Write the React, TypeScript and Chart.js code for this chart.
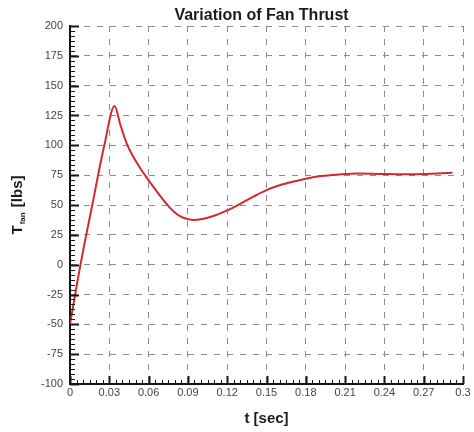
import { useEffect, useRef } from 'react';
import { Chart, registerables } from 'chart.js';

Chart.register(...registerables);

// Fan thrust response over time
const tSec = [
  0, 0.008, 0.017, 0.0262, 0.034,
  0.0385, 0.0435, 0.048, 0.0535, 0.0588, 0.0665, 0.074, 0.08, 0.086, 0.094,
  0.1, 0.11, 0.12, 0.13, 0.14, 0.15, 0.16, 0.17, 0.18, 0.19, 0.2,
  0.21, 0.22, 0.23, 0.24, 0.25, 0.26, 0.27, 0.28, 0.292,
];
const thrustLbs = [
  -50, 0, 50, 100, 133,
  117, 101, 91, 81, 72.5, 61, 50.5, 43.7, 39.5, 37.5,
  38, 41, 45.5, 51, 57, 62.5, 66.5, 69.5, 72, 74, 75.2,
  76, 76.3, 76.2, 76, 75.8, 75.8, 76, 76.5, 77,
];

const xTickValues = [0, 0.03, 0.06, 0.09, 0.12, 0.15, 0.18, 0.21, 0.24, 0.27, 0.3];
const yTickValues = [-100, -75, -50, -25, 0, 25, 50, 75, 100, 125, 150, 175, 200];

const chartTitle = 'Variation of Fan Thrust';
const xAxisTitle = 't [sec]';
const yTitleMain = 'T';
const yTitleSub = 'fan';
const yTitleUnit = ' [lbs]';

const FONT = '"Liberation Sans", Arial, sans-serif';
const MINOR_DIVISIONS = 6;

const fmtTick = (v: number) => String(Number(v.toFixed(3)));

// Inward major/minor tick marks plus the titles (the y title carries a subscript)
const axisDecor = {
  id: 'axisDecor',
  afterDraw(chart: any) {
    const { ctx, chartArea, scales } = chart;
    const { left, right, top, bottom } = chartArea;
    const xs = scales.x;
    const ys = scales.y;
    ctx.save();
    ctx.strokeStyle = '#151515';

    const xStep = (xTickValues[1] - xTickValues[0]) / MINOR_DIVISIONS;
    const xCount = Math.round((xs.max - xs.min) / xStep);
    for (let i = 0; i <= xCount; i++) {
      const px = Math.round(xs.getPixelForValue(xs.min + i * xStep)) + 0.5;
      const major = i % MINOR_DIVISIONS === 0;
      ctx.lineWidth = major ? 2 : 1;
      ctx.beginPath();
      ctx.moveTo(px, bottom);
      ctx.lineTo(px, bottom - (major ? 8 : 4));
      ctx.stroke();
    }

    const yStep = (yTickValues[1] - yTickValues[0]) / MINOR_DIVISIONS;
    const yCount = Math.round((ys.max - ys.min) / yStep);
    for (let i = 0; i <= yCount; i++) {
      const py = Math.round(ys.getPixelForValue(ys.min + i * yStep)) + 0.5;
      const major = i % MINOR_DIVISIONS === 0;
      ctx.lineWidth = major ? 2 : 1;
      ctx.beginPath();
      ctx.moveTo(left, py);
      ctx.lineTo(left + (major ? 9 : 5), py);
      ctx.stroke();
    }

    const cx = (left + right) / 2;
    ctx.fillStyle = '#1a1a1a';
    ctx.textAlign = 'center';
    ctx.textBaseline = 'middle';
    ctx.font = `bold 16px ${FONT}`;
    ctx.fillText(chartTitle, cx - 5, 16);

    ctx.font = `bold 15px ${FONT}`;
    ctx.fillText(xAxisTitle, cx, 419);

    // rotated y title: T, subscript "fan", then unit
    const mainFont = `bold 15px ${FONT}`;
    const subFont = `bold 8px ${FONT}`;
    ctx.font = mainFont;
    const wT = ctx.measureText(yTitleMain).width;
    const wU = ctx.measureText(yTitleUnit).width;
    ctx.font = subFont;
    const wS = ctx.measureText(yTitleSub).width + 2;
    const total = wT + wS + wU;
    ctx.translate(16, (top + bottom) / 2);
    ctx.rotate(-Math.PI / 2);
    ctx.textAlign = 'left';
    ctx.textBaseline = 'alphabetic';
    let xpos = -total / 2;
    ctx.font = mainFont;
    ctx.fillText(yTitleMain, xpos, 6);
    xpos += wT + 1;
    ctx.font = subFont;
    ctx.fillText(yTitleSub, xpos, 9);
    xpos += wS - 1;
    ctx.font = mainFont;
    ctx.fillText(yTitleUnit, xpos, 6);
    ctx.restore();
  },
};

export default function App() {
  const canvasRef = useRef<HTMLCanvasElement | null>(null);

  useEffect(() => {
    const canvas = canvasRef.current;
    if (!canvas) return;
    const chart = new Chart(canvas, {
      type: 'line',
      data: {
        datasets: [
          {
            data: tSec.map((t, i) => ({ x: t, y: thrustLbs[i] })),
            borderColor: '#d12a2e',
            borderWidth: 2,
            pointRadius: 0,
            fill: false,
            cubicInterpolationMode: 'monotone',
          },
        ],
      },
      options: {
        responsive: false,
        animation: false,
        layout: { padding: { top: 26, right: 11, left: 0, bottom: 0 } },
        plugins: {
          legend: { display: false },
          title: { display: false },
          tooltip: { enabled: false },
        },
        scales: {
          x: {
            type: 'linear',
            min: xTickValues[0],
            max: xTickValues[xTickValues.length - 1],
            afterBuildTicks: (scale: any) => {
              scale.ticks = xTickValues.map((v) => ({ value: v }));
            },
            afterFit: (scale: any) => {
              scale.height = 48;
            },
            grid: { color: '#8c8c8c', lineWidth: 1, drawTicks: false },
            border: { display: true, color: '#151515', width: 2, dash: [6, 7] },
            ticks: {
              padding: 2,
              maxRotation: 0,
              autoSkip: false,
              color: '#444',
              font: { family: FONT, size: 11 },
              callback: (v: any) => fmtTick(Number(v)),
            },
          },
          y: {
            type: 'linear',
            min: yTickValues[0],
            max: yTickValues[yTickValues.length - 1],
            afterBuildTicks: (scale: any) => {
              scale.ticks = yTickValues.map((v) => ({ value: v }));
            },
            afterFit: (scale: any) => {
              scale.width = 70;
            },
            grid: { color: '#8c8c8c', lineWidth: 1, drawTicks: false },
            border: { display: true, color: '#151515', width: 2, dash: [6, 7] },
            ticks: {
              padding: 7,
              autoSkip: false,
              color: '#444',
              font: { family: FONT, size: 11 },
              callback: (v: any) => fmtTick(Number(v)),
            },
          },
        },
      },
      plugins: [axisDecor],
    });
    return () => chart.destroy();
  }, []);

  return (
    <div style={{ position: 'fixed', left: 0, top: 0, width: 474, height: 432, background: '#fff' }}>
      <canvas ref={canvasRef} width={474} height={432} />
    </div>
  );
}
